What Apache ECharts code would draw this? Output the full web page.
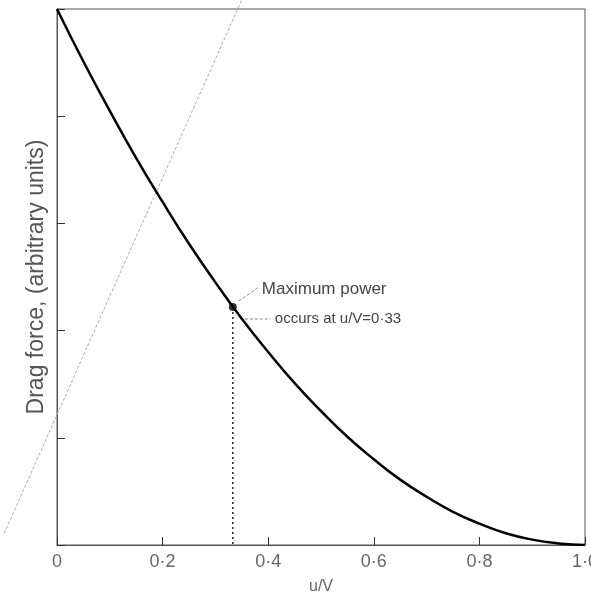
<!DOCTYPE html>
<html>
<head>
<meta charset="utf-8">
<script src="https://cdn.jsdelivr.net/npm/echarts@6/dist/echarts.min.js"></script>
<style>
html,body{margin:0;padding:0;background:#fff;}
#main{width:591px;height:602px;}
</style>
</head>
<body>
<div id="main"></div>
<script>
// Drag force curve (u/V, drag force)
const uRatio = [0, 0.05, 0.1, 0.15, 0.2, 0.25, 0.3, 0.35, 0.4, 0.45, 0.5, 0.55, 0.6, 0.65, 0.7, 0.75, 0.8, 0.85, 0.9, 0.95, 1.0];
const dragForce = [1.0, 0.902, 0.81, 0.722, 0.64, 0.562, 0.49, 0.422, 0.36, 0.302, 0.25, 0.202, 0.16, 0.122, 0.09, 0.062, 0.04, 0.022, 0.01, 0.003, 0.0];
// Maximum power point
const maxPowerU = 0.333;
const maxPowerDrag = 0.444;
// Faint straight line in the figure (two ends)
const faintLineU = [-0.10, 0.35];
const faintLineY = [0.022, 1.017];
// Tick labels
const xTickLabels = {0: '0', 0.2: '0·2', 0.4: '0·4', 0.6: '0·6', 0.8: '0·8', 1: '1·0'};
const xName = 'u/V';
const yName = 'Drag force, (arbitrary units)';
const note1 = 'Maximum power';
const note2 = 'occurs at u/V=0·33';

const FONT = '"Liberation Sans", sans-serif';
const chart = echarts.init(document.getElementById('main'), null, {renderer: 'canvas'});

const curve = uRatio.map((u, i) => [u, dragForce[i]]);
const faint = faintLineU.map((u, i) => [u, faintLineY[i]]);

chart.setOption({
  animation: false,
  backgroundColor: '#fff',
  grid: {left: 57, right: 6, top: 9, bottom: 57, outerBoundsMode: 'none', containLabel: false,
    show: true, borderColor: '#555', borderWidth: 1},
  xAxis: {
    type: 'value', min: 0, max: 1, interval: 0.2,
    name: xName, nameLocation: 'middle', nameGap: 34,
    nameTextStyle: {fontFamily: FONT, fontSize: 16, color: '#666'},
    axisLine: {show: true, lineStyle: {color: '#555', width: 1}},
    axisTick: {show: true, inside: true, length: 8, lineStyle: {color: '#333', width: 1}},
    axisLabel: {margin: 8, fontFamily: FONT, fontSize: 18, color: '#666',
      formatter: v => xTickLabels[Math.round(v * 10) / 10] ?? ''},
    splitLine: {show: false}
  },
  yAxis: {
    type: 'value', min: 0, max: 1, interval: 0.2,
    name: yName, nameLocation: 'middle', nameGap: 9, nameRotate: 90,
    nameTextStyle: {fontFamily: FONT, fontSize: 23, color: '#555'},
    axisLine: {show: true, lineStyle: {color: '#555', width: 1}},
    axisTick: {show: true, inside: true, length: 8, lineStyle: {color: '#333', width: 1}},
    axisLabel: {show: false},
    splitLine: {show: false}
  },
  series: [
    {
      type: 'line', data: curve, smooth: 0.5, symbol: 'none',
      lineStyle: {color: '#000', width: 2.5}, z: 3
    },
    {
      type: 'line', data: [[maxPowerU, maxPowerDrag], [maxPowerU, 0]], symbol: 'none',
      lineStyle: {color: '#222', width: 1.5, type: [2, 3]}, z: 2
    },
    {
      type: 'scatter', data: [[maxPowerU, maxPowerDrag]], symbol: 'circle', symbolSize: 8,
      itemStyle: {color: '#000'}, z: 4
    }
  ]
});

const p = chart.convertToPixel({gridIndex: 0}, [maxPowerU, maxPowerDrag]);
const fl = faint.map(d => chart.convertToPixel({gridIndex: 0}, d));
chart.setOption({
  graphic: [
    {type: 'line', shape: {x1: fl[0][0], y1: fl[0][1], x2: fl[1][0], y2: fl[1][1]}, z: 1,
      style: {stroke: '#aaa', lineWidth: 1, lineDash: [3, 2]}},
    {type: 'line', shape: {x1: p[0] + 6, y1: p[1] - 6, x2: p[0] + 26, y2: p[1] - 20},
      style: {stroke: '#888', lineWidth: 1, lineDash: [3, 2]}},
    {type: 'line', shape: {x1: p[0] + 12, y1: p[1] + 12, x2: p[0] + 38, y2: p[1] + 12},
      style: {stroke: '#888', lineWidth: 1, lineDash: [3, 2]}},
    {type: 'text', x: p[0] + 29, y: p[1] - 18,
      style: {text: note1, font: '17px ' + FONT, fill: '#444', textVerticalAlign: 'middle'}},
    {type: 'text', x: p[0] + 42, y: p[1] + 12,
      style: {text: note2, font: '15px ' + FONT, fill: '#444', textVerticalAlign: 'middle'}}
  ]
});
</script>
</body>
</html>
